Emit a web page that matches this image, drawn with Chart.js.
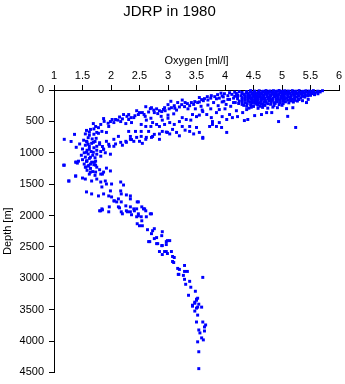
<!DOCTYPE html>
<html><head><meta charset="utf-8">
<script src="https://cdn.jsdelivr.net/npm/chart.js@4"></script>
<style>html,body{margin:0;padding:0;background:#fff}</style>
</head><body>
<canvas id="c" width="345" height="384"></canvas>
<script>
const chartTitle = 'JDRP in 1980';
const xAxisTitle = 'Oxygen [ml/l]';
const yAxisTitle = 'Depth [m]';
const xTickValues = [1, 1.5, 2, 2.5, 3, 3.5, 4, 4.5, 5, 5.5, 6];
const xTickLabels = ['1', '1.5', '2', '2.5', '3', '3.5', '4', '4.5', '5', '5.5', '6'];
const yTickValues = [0, 500, 1000, 1500, 2000, 2500, 3000, 3500, 4000, 4500];
const yTickLabels = ['0', '500', '1000', '1500', '2000', '2500', '3000', '3500', '4000', '4500'];

// [oxygen ml/l, depth m]
const surfaceLayer = [
[4.45,10],[4.60,12],[4.72,9],[4.85,11],[4.95,8],[5.05,12],[5.18,10],[5.30,9],[5.42,12],[5.55,10],[5.71,11],
[4.38,25],[4.52,27],[4.66,24],[4.78,26],[4.90,23],[5.02,27],[5.12,25],[5.24,24],[5.36,26],[5.50,25],[5.62,28],
[4.30,40],[4.48,42],[4.58,39],[4.70,41],[4.82,38],[4.97,42],[5.08,40],[5.20,39],[5.33,41],[5.46,40],[5.58,43],
[4.20,55],[4.41,57],[4.55,54],[4.64,56],[4.76,53],[4.88,57],[5.00,55],[5.14,54],[5.27,56],[5.40,55],[5.52,58],
[4.12,70],[4.34,72],[4.50,69],[4.60,71],[4.73,68],[4.86,72],[4.95,70],[5.10,69],[5.22,71],[5.35,70],[5.57,74],
[4.05,90],[4.28,92],[4.44,89],[4.56,91],[4.68,88],[4.80,92],[4.92,90],[5.04,89],[5.16,91],[5.30,90],[5.45,93],
[3.97,110],[4.22,112],[4.40,109],[4.52,111],[4.62,108],[4.75,112],[4.88,110],[5.00,109],[5.12,111],[5.26,110],[5.40,113],
[4.15,130],[4.35,132],[4.47,129],[4.58,131],[4.70,128],[4.84,132],[4.98,130],[5.08,129],[5.22,131],[5.46,150],
[4.08,150],[4.30,152],[4.45,149],[4.55,151],[4.66,148],[4.80,152],[4.93,150],[5.05,149],[5.18,151],[5.30,152],
[4.25,175],[4.40,177],[4.52,174],[4.63,176],[4.77,173],[4.90,177],[5.02,175],[5.15,174],[5.27,176],[5.43,200],
[4.18,200],[4.35,202],[4.48,199],[4.60,201],[4.72,198],[4.86,202],[4.97,200],[5.12,205],
[4.30,230],[4.45,232],[4.56,229],[4.67,231],[4.80,228],[4.95,232],[5.19,282],
[4.38,260],[4.50,262],[4.62,259],[4.92,282],[5.08,297],
[4.42,290],[4.58,292],[4.75,289]
];

const surfaceFill = [
[4.52,18],[4.67,20],[4.79,16],[4.91,19],[5.00,21],[5.11,17],[5.24,19],[5.37,21],[5.48,17],[5.63,19],
[4.44,33],[4.59,35],[4.73,31],[4.84,34],[4.96,36],[5.07,32],[5.18,34],[5.30,36],[5.42,32],[5.55,34],[5.67,31],
[4.37,48],[4.52,50],[4.64,46],[4.76,49],[4.89,51],[5.03,47],[5.14,49],[5.26,51],[5.39,47],[5.51,50],
[4.30,63],[4.47,65],[4.59,61],[4.70,64],[4.82,66],[4.94,62],[5.06,64],[5.20,66],[5.33,62],[5.46,65],[5.63,60],
[4.22,80],[4.40,82],[4.53,78],[4.66,81],[4.79,83],[4.90,79],[5.01,81],[5.16,83],[5.28,79],[5.41,82],[5.50,85],
[4.17,100],[4.35,102],[4.49,98],[4.61,101],[4.74,103],[4.86,99],[4.98,101],[5.10,103],[5.22,99],[5.36,102],
[4.30,120],[4.44,122],[4.57,118],[4.66,121],[4.79,123],[4.93,119],[5.04,121],[5.16,123],[5.33,125],
[4.22,140],[4.40,142],[4.52,138],[4.63,141],[4.76,143],[4.90,139],[5.02,141],[5.14,143],[5.28,139],
[4.35,162],[4.48,164],[4.58,160],[4.71,163],[4.84,165],[4.97,161],[5.10,163],[5.22,165],[5.36,170],
[4.30,188],[4.44,190],[4.56,186],[4.68,189],[4.81,191],[4.92,187],[5.06,189],[5.20,192],
[4.24,215],[4.39,217],[4.52,213],[4.63,216],[4.75,218],[4.88,214],[5.02,217],
[4.33,245],[4.46,247],[4.58,243],[4.70,246],[4.86,248],[5.00,244],
[4.46,275],[4.66,277],[4.84,273]
];

const upperBand = [
[4.25,27],[4.17,35],[4.08,43],[3.99,59],[3.93,50],[3.87,74],[3.82,106],[3.76,90],[3.69,106],[3.64,138],
[3.59,153],[3.55,120],[3.52,200],[3.47,185],[3.41,200],[3.34,217],[3.29,265],[3.24,233],[3.17,200],[3.11,250],
[3.06,282],[3.00,233],[2.94,282],[2.89,344],[2.82,376],[2.76,360],[2.71,282],[2.69,297],[2.61,266],[2.55,360],
[2.48,391],[2.40,440],[2.31,391],[2.22,391],[2.17,503],[2.08,470],[1.99,503],[1.87,455],[2.05,519],[1.96,581],
[1.82,549],[1.73,581],[1.69,535],[1.64,628],[1.57,644],[1.84,660],[1.75,676],[1.92,676],[2.26,535],[2.36,519],
[2.31,470],[2.53,549],[2.61,581],[2.70,581],[2.43,660],[2.31,660],[2.53,660],[2.66,660],[3.70,160],[3.90,130],
[3.35,300],[3.15,320],[2.95,330],[2.60,420],[2.80,300],[3.05,180],[3.25,160],[2.45,330],[2.15,430],[4.05,150],
[4.15,200],[3.98,180],[4.10,260],[4.00,300],[4.20,330],
[3.95,95],[3.85,140],[3.75,130],[3.62,170],[3.55,190],[3.45,230],[3.38,250],[3.30,200],[3.20,270],[3.12,290],
[3.02,300],[2.92,310],[2.85,330],[2.75,320],[2.66,350],[2.58,390],[2.50,360],[2.42,410],[2.35,440],[2.28,420],
[2.20,460],[2.12,480],[2.02,470],[1.95,530],[1.88,500],[1.78,600],[1.70,620],[1.62,670],[3.80,200],[3.70,240],
[3.58,260],[3.48,300],[3.88,250],[3.95,190],[4.02,230],[3.75,300],[3.60,320],[3.10,380],[3.00,400],[2.88,420],
[2.70,450],[2.62,480]
];

const middleBand = [
[2.73,519],[2.80,549],[2.85,581],[2.94,549],[3.03,519],[3.11,549],[3.20,503],[3.25,440],[3.32,470],[3.43,391],
[3.50,424],[3.61,344],[3.68,391],[3.76,440],[3.78,503],[3.85,360],[3.90,312],[3.95,424],[4.03,470],[4.08,391],
[4.13,440],[4.22,424],[4.31,360],[4.38,312],[4.34,487],[4.40,470],[4.52,408],[4.64,391],[4.73,360],[4.82,360],
[5.10,420],[4.94,503],[5.24,597],[3.55,400],[3.40,480],[3.00,450],[2.90,480]
];

const lowerBand = [
[2.71,755],[2.76,707],[2.85,786],[2.90,660],[2.99,676],[3.08,628],[3.15,676],[3.25,581],[3.38,581],[3.50,597],
[3.55,676],[3.61,755],[3.73,581],[3.78,549],[3.85,581],[3.90,519],[3.94,597],[4.03,676],[3.61,770],[3.03,700],
[3.20,730],[3.38,660],[2.45,755],[2.53,739],[2.61,786],[2.40,818],[2.34,786],[2.26,818],[2.17,834],[2.13,739],
[2.05,786],[1.92,818],[2.05,897],[1.96,865],[1.87,944],[1.99,1023],[2.34,740],[1.80,865],[1.97,897],[2.08,860],
[2.27,834],[2.36,790],[2.50,818],[2.62,755],[2.73,740],[2.85,700],[2.97,670],[3.30,640],[3.45,700],[2.20,880],
[2.55,850]
];

const bendLayer = [
[1.55,700],[1.62,720],[1.70,705],[1.78,690],[1.60,760],[1.67,780],[1.74,770],[1.52,800],[1.58,830],[1.66,850],
[1.72,820],[1.80,840],[1.55,880],[1.62,900],[1.70,920],[1.50,940],[1.58,960],[1.65,980],[1.75,960],[1.53,1000],
[1.60,1020],[1.68,1040],[1.55,1070],[1.62,1090],[1.72,1080],[1.50,1110],[1.58,1130],[1.66,1150],[1.53,1180],[1.61,1200],
[1.70,1190],[1.56,1230],[1.64,1250],[1.75,1230],[1.58,1280],[1.68,1300],[1.80,1270],[1.62,1340],[1.72,1360],[1.85,1340],
[1.18,786],[1.36,707],[1.39,913],[1.18,1198],[1.26,1450],[1.38,1371],[1.50,1403],[1.39,1150],[1.43,1134],[1.45,860],
[1.30,820],[1.57,818],[1.60,865],[1.69,834],[1.75,897],[1.62,944],[1.69,992],[1.57,992],[1.64,1071],[1.75,1023],
[1.57,1134],[1.73,1134],[1.82,1055],[1.87,944],[1.82,980],[1.48,1040],[1.85,900],[1.90,1000]
];

const intermediateLayer = [
[1.17,1198],[1.38,1150],[1.41,1165],[1.57,1134],[1.60,1213],[1.64,1180],[1.71,1150],[1.73,1198],[1.55,1229],[1.64,1308],
[1.73,1308],[1.82,1340],[1.87,1308],[1.92,1245],[1.99,1290],[1.26,1450],[1.38,1371],[1.55,1419],[1.66,1450],[1.75,1419],
[1.82,1466],[1.90,1450],[1.92,1498],[2.01,1498],[1.84,1545],[1.57,1624],[1.66,1656],[1.78,1688],[1.87,1656],[1.96,1688],
[1.99,1608],[2.17,1466],[2.22,1514],[2.17,1608],[2.18,1656],[2.27,1672],[2.34,1688],[2.01,1704],[2.05,1767],[2.10,1783],
[2.18,1783],[2.13,1735],[2.34,1735],[2.48,1783],[2.26,1846],[2.34,1862],[1.82,1925],[1.84,1894],[1.96,1941],[2.13,1862],
[2.18,1941],[2.27,1925],[2.34,1941],[2.40,1894],[2.45,1894],[2.48,1973],[2.57,1894],[2.61,1925],[2.69,1973],[2.36,1988],
[2.45,2020],[2.53,2020],[1.80,1925],[1.85,1909],[1.97,1862],[2.06,1767],[2.15,1878],[2.20,1973],[2.29,1941],[2.41,1925],
[2.46,1783],[2.48,2004],[2.54,1862],[2.59,1894],[2.62,2020]
];

const deepLayer = [
[2.46,2131],[2.54,2084],[2.50,2163],[2.55,2163],[2.64,2226],[2.71,2289],[2.73,2242],[2.76,2368],[2.66,2416],[2.80,2352],
[2.89,2321],[2.90,2258],[2.82,2448],[2.90,2479],[2.97,2416],[3.03,2400],[2.94,2574],[2.85,2574],[2.99,2606],[3.06,2574],
[3.08,2653],[3.08,2733],[3.11,2669],[3.17,2843],[3.18,2938],[2.68,2416],[2.80,2448],[2.89,2480],[2.97,2463],[2.99,2400],
[2.90,2622],[2.97,2574],[3.10,2749],[3.29,2796],[3.20,2859],[3.29,2891],[3.34,2891],[3.19,2938],[3.27,2954],[3.29,3017],
[3.38,3049],[3.31,3096],[3.40,3143],[3.48,3207],[3.36,3271],[3.50,3334],[3.47,3381],[3.52,3318],[3.43,3445],[3.52,3460],
[3.61,2986],[2.71,1973],[2.76,2210]
];

const bottomLayer = [
[3.50,3350],[3.47,3398],[3.43,3429],[3.54,3413],[3.50,3476],[3.59,3460],[3.47,3523],[3.52,3587],[3.50,3697],[3.61,3697],
[3.66,3744],[3.64,3776],[3.64,3840],[3.54,3824],[3.56,3871],[3.59,3950],[3.62,3982],[3.52,4013],[3.54,4171],[3.54,4440]
];

const FONT = '"Liberation Sans", Arial, Helvetica, sans-serif';
const allSamples = [].concat(surfaceLayer, surfaceFill, upperBand, middleBand, lowerBand, bendLayer, intermediateLayer, deepLayer, bottomLayer);

new Chart(document.getElementById('c'), {
  type: 'scatter',
  data: {
    datasets: [{
      data: allSamples.map(p => ({ x: p[0], y: p[1] })),
      pointStyle: 'rect',
      pointRadius: 2.1,
      pointHoverRadius: 2.1,
      borderWidth: 0,
      backgroundColor: '#0000ff',
      borderColor: '#0000ff',
      clip: false
    }]
  },
  options: {
    responsive: false,
    animation: false,
    devicePixelRatio: 1,
    events: [],
    layout: { padding: { left: 0, right: 6, top: 0, bottom: 9 } },
    plugins: {
      legend: { display: false },
      tooltip: { enabled: false },
      title: {
        display: true, text: chartTitle, color: '#000',
        font: { family: FONT, size: 15, weight: 'normal' },
        padding: { top: 3, bottom: 33 }
      }
    },
    scales: {
      x: {
        type: 'linear', position: 'top', min: 1, max: 6,
        afterBuildTicks: s => { s.ticks = xTickValues.map(v => ({ value: v })); },
        afterFit: s => { s.height = 36; },
        ticks: {
          callback: (v, i) => xTickLabels[i], padding: 2, color: '#000',
          font: { family: FONT, size: 11 }, maxRotation: 0, autoSkip: false
        },
        grid: { drawOnChartArea: false, drawTicks: true, tickLength: 5, color: '#000', lineWidth: 1 },
        border: { display: true, color: '#000', width: 1 },
        title: { display: true, text: xAxisTitle, color: '#000', font: { family: FONT, size: 11 }, padding: { top: 0, bottom: 0 } }
      },
      y: {
        type: 'linear', position: 'left', reverse: true, min: 0, max: 4500,
        afterBuildTicks: s => { s.ticks = yTickValues.map(v => ({ value: v })); },
        afterFit: s => { s.width = 54; },
        ticks: {
          callback: (v, i) => yTickLabels[i], padding: 5, color: '#000',
          font: { family: FONT, size: 11 }, autoSkip: false
        },
        grid: { drawOnChartArea: false, drawTicks: true, tickLength: 5, color: '#000', lineWidth: 1 },
        border: { display: true, color: '#000', width: 1 },
        title: { display: true, text: yAxisTitle, color: '#000', font: { family: FONT, size: 11 }, padding: { top: 1, bottom: 0 } }
      }
    }
  }
});
</script>
</body></html>
